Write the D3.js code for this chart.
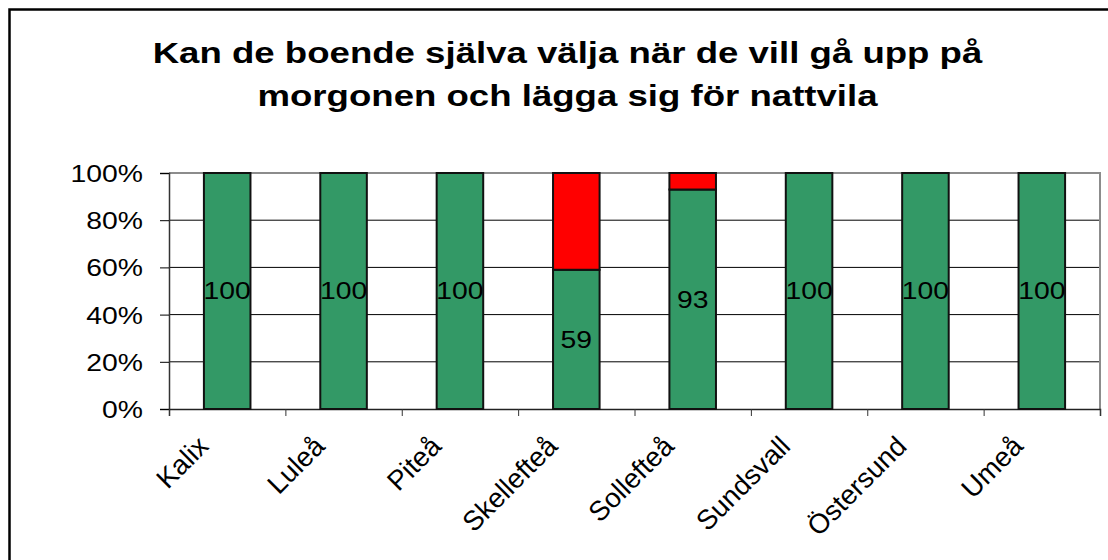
<!DOCTYPE html>
<html>
<head>
<meta charset="utf-8">
<script src="https://cdn.jsdelivr.net/npm/d3@7"></script>
<style>
  body { margin: 0; background: #fff; }
  svg { display: block; }
  text { font-family: "Liberation Sans", Arial, sans-serif; fill: #000; }
</style>
</head>
<body>
<svg id="chart" width="1108" height="560"></svg>
<script>

/* ── data ── */
const titleLines = ['Kan de boende själva välja när de vill gå upp på', 'morgonen och lägga sig för nattvila'];
const categories = ['Kalix', 'Luleå', 'Piteå', 'Skellefteå', 'Sollefteå', 'Sundsvall', 'Östersund', 'Umeå'];
const yesValues  = [100, 100, 100, 59, 93, 100, 100, 100];
const noValues   = [0, 0, 0, 41, 7, 0, 0, 0];
const yTicks     = [0, 20, 40, 60, 80, 100];

/* ── layout ── */
const svg = d3.select('#chart');
const plot = { left: 169, right: 1100, top: 173, bottom: 409 };
const stretch = 1.18;          // text in the original is a bit wide
const green = '#339966', red = '#ff0000';

/* outer frame (right / bottom run off the picture) */
svg.append('rect')
  .attr('x', 9.5).attr('y', 9.5)
  .attr('width', 1120).attr('height', 580)
  .attr('fill', 'none').attr('stroke', '#000').attr('stroke-width', 2.5);

/* ── title ── */
svg.selectAll('text.title')
  .data(titleLines)
  .join('text')
  .attr('class', 'title')
  .attr('transform', (d, i) => `translate(567.5, ${63 + i * 43}) scale(${stretch + 0.04}, 1)`)
  .attr('text-anchor', 'middle')
  .attr('font-size', '30px')
  .attr('font-weight', 'bold')
  .text(d => d);

/* ── scales ── */
const x = d3.scaleBand()
  .domain(categories)
  .range([plot.left, plot.right])
  .paddingInner(0.6)
  .paddingOuter(0.3);

const xEdge = d3.scaleLinear()
  .domain([0, categories.length])
  .range([plot.left, plot.right]);

const y = d3.scaleLinear()
  .domain([0, 100])
  .range([plot.bottom, plot.top]);

/* ── gridlines + plot border ── */
svg.append('g')
  .selectAll('line')
  .data(yTicks.filter(t => t > 0 && t < 100))
  .join('line')
  .attr('x1', plot.left).attr('x2', plot.right)
  .attr('y1', d => y(d)).attr('y2', d => y(d))
  .attr('stroke', '#000').attr('stroke-width', 1);

svg.append('path')
  .attr('d', `M${plot.left},${y(100)}H${plot.right}V${plot.bottom}`)
  .attr('fill', 'none').attr('stroke', '#8c8c8c').attr('stroke-width', 2);

/* ── y axis ── */
const yAxis = svg.append('g')
  .attr('transform', `translate(${plot.left},0)`)
  .call(d3.axisLeft(y).tickValues(yTicks).tickSize(9).tickPadding(0).tickFormat(d => d + '%'));

yAxis.select('.domain').attr('stroke', '#333').attr('stroke-width', 1.5);
yAxis.selectAll('.tick line').attr('stroke', '#000');
yAxis.selectAll('.tick text')
  .attr('font-family', '"Liberation Sans", Arial, sans-serif')
  .attr('font-size', '24px')
  .attr('fill', '#000')
  .attr('x', 0).attr('dy', '0.35em')
  .attr('transform', `translate(-26,0) scale(${stretch},1)`);

/* ── x axis: ticks at category boundaries ── */
const xAxis = svg.append('g')
  .attr('transform', `translate(0,${plot.bottom})`)
  .call(d3.axisBottom(xEdge).tickValues(d3.range(categories.length + 1)).tickSize(7).tickFormat(''));

xAxis.select('.domain').attr('stroke', '#222').attr('stroke-width', 1.5);
xAxis.selectAll('.tick line').attr('stroke', '#333');

/* ── stacked bars ── */
const bars = svg.append('g');

bars.selectAll('rect.yes')
  .data(categories)
  .join('rect')
  .attr('class', 'yes')
  .attr('x', d => x(d))
  .attr('width', x.bandwidth())
  .attr('y', (d, i) => y(yesValues[i]))
  .attr('height', (d, i) => y(0) - y(yesValues[i]))
  .attr('fill', green)
  .attr('stroke', '#111').attr('stroke-width', 2);

bars.selectAll('rect.no')
  .data(categories.filter((d, i) => noValues[i] > 0))
  .join('rect')
  .attr('class', 'no')
  .attr('x', d => x(d))
  .attr('width', x.bandwidth())
  .attr('y', d => y(yesValues[categories.indexOf(d)] + noValues[categories.indexOf(d)]))
  .attr('height', d => y(0) - y(noValues[categories.indexOf(d)]))
  .attr('fill', red)
  .attr('stroke', '#111').attr('stroke-width', 2);

/* data labels, middle of the green segment */
bars.selectAll('text.val')
  .data(categories)
  .join('text')
  .attr('class', 'val')
  .attr('transform', (d, i) =>
    `translate(${x(d) + x.bandwidth() / 2}, ${y(yesValues[i] / 2)}) scale(${stretch},1)`)
  .attr('text-anchor', 'middle')
  .attr('dy', '0.35em')
  .attr('font-size', '24px')
  .text((d, i) => yesValues[i]);

/* ── rotated category labels ── */
svg.append('g')
  .selectAll('text')
  .data(categories)
  .join('text')
  .attr('transform', d => `translate(${x(d) + x.bandwidth() / 2 - 24}, 441) rotate(-45)`)
  .attr('text-anchor', 'end')
  .attr('dy', '0.35em')
  .attr('font-size', '27.5px')
  .text(d => d);

</script>
</body>
</html>
